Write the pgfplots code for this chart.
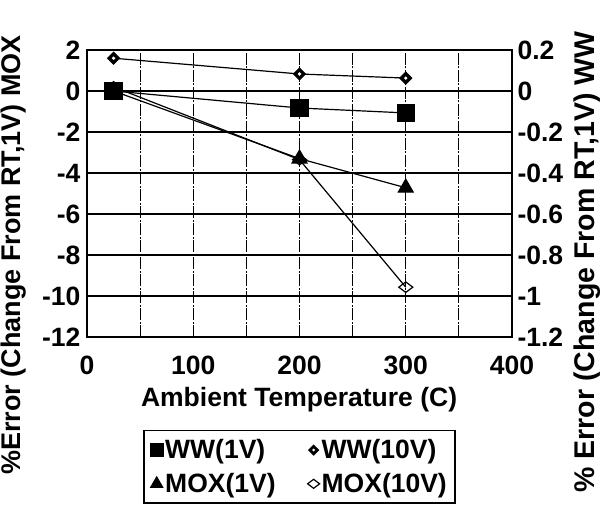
\documentclass[border=0pt]{standalone}
\usepackage{pgfplots}
\pgfplotsset{compat=1.18}
\usepackage{fontspec}
\setmainfont{Liberation Sans}
\pgfdeclareplotmark{wwd}{%
  \pgfpathmoveto{\pgfqpoint{0pt}{\pgfplotmarksize}}%
  \pgfpathlineto{\pgfqpoint{\pgfplotmarksize}{0pt}}%
  \pgfpathlineto{\pgfqpoint{0pt}{-\pgfplotmarksize}}%
  \pgfpathlineto{\pgfqpoint{-\pgfplotmarksize}{0pt}}%
  \pgfpathclose
  \pgfusepathqfillstroke
  \begin{pgfscope}%
  \pgfsetfillcolor{white}%
  \pgfpathcircle{\pgfpointorigin}{0.3\pgfplotmarksize}%
  \pgfusepathqfill
  \end{pgfscope}%
}
\newcommand{\bigf}{\fontsize{26.5}{30}\selectfont\bfseries}
\begin{document}
\begin{tikzpicture}[x=1pt,y=1pt]
\useasboundingbox (0,0) rectangle (601,517);
\pgfplotsset{
  common/.style={
    at={(87pt,180pt)}, anchor=south west, scale only axis,
    width=425pt, height=287pt,
    xmin=0, xmax=400,
    major tick length=0pt, minor tick length=0pt,
    tick label style={font=\bigf},
    label style={font=\bigf},
    axis line style={line width=1.5pt},
  }
}
\begin{axis}[common,
  ymin=-12, ymax=2,
  xtick={0,100,200,300,400}, xticklabels={0,100,200,300,400},
  minor xtick={50,150,250,350},
  ytick={-12,-10,-8,-6,-4,-2,0,2},
  yticklabels={-12,-10,-8,-6,-4,-2,0,2},
  xmajorgrids, xminorgrids, ymajorgrids,
  x grid style={black, line width=1pt, dash pattern=on 12pt off 1.5pt on 2pt off 1.5pt},
  minor x grid style={black, line width=1pt, dash pattern=on 12pt off 1.5pt on 2pt off 1.5pt},
  y grid style={black, line width=1.4pt},
  xticklabel style={yshift=-15pt},
  yticklabel style={xshift=-3pt},
  xlabel={Ambient Temperature (C)},
  xlabel style={at={(axis description cs:0.499,-0.219)}, anchor=center},
  ylabel={\%Error (Change From RT,1V) MOX},
  ylabel style={at={(axis description cs:-0.172,0.286)}, anchor=center, font=\fontsize{27}{30}\selectfont\bfseries},
]
\addplot[black, line width=1.2pt, mark=triangle*, mark size=8.5pt, mark options={solid, fill=black}]
  coordinates {(25,0) (200,-3.3) (300,-4.72)};
\addplot[black, line width=1.2pt, mark=diamond, mark size=7pt, mark options={solid, fill=white, rotate=90, line width=1.2pt}]
  coordinates {(25,0.2) (200,-3.35) (300,-9.57)};
\end{axis}
\begin{axis}[common,
  ymin=-1.2, ymax=0.2,
  axis x line=none, axis y line*=right,
  ytick={-1.2,-1,-0.8,-0.6,-0.4,-0.2,0,0.2},
  yticklabels={-1.2,-1,-0.8,-0.6,-0.4,-0.2,0,0.2},
  yticklabel style={xshift=2pt},
  ylabel={\% Error (Change From RT,1V) WW},
  ylabel style={at={(axis description cs:1.178,0.261)}, anchor=center, font=\fontsize{28.5}{32}\selectfont\bfseries},
  legend columns=2,
  legend style={at={(axis description cs:0.5,-0.324)}, anchor=north,
    font=\bigf, draw=black, line width=1.5pt, inner xsep=6pt, inner ysep=7pt,
    /tikz/every even column/.append style={column sep=30pt},
    row sep=9pt},
  legend image code/.code={\draw[#1, line width=1pt] plot coordinates {(0.22cm,0cm)};},
  legend cell align=left,
]
\addplot[black, line width=1.2pt, mark=square*, mark size=8.5pt, mark options={solid, fill=black}, forget plot]
  coordinates {(25,0) (200,-0.083) (300,-0.107)};
\addplot[black, line width=1.2pt, mark=wwd, mark size=6pt, mark options={solid, fill=black, line width=1pt}, forget plot]
  coordinates {(25,0.16) (200,0.083) (300,0.063)};
\addlegendimage{black, only marks, mark=square*, mark size=6.5pt}
\addlegendentry{WW(1V)}
\addlegendimage{black, only marks, mark=wwd, mark size=5pt}
\addlegendentry{WW(10V)}
\addlegendimage{black, only marks, mark=triangle*, mark size=7pt}
\addlegendentry{MOX(1V)}
\addlegendimage{black, only marks, mark=diamond, mark size=6pt, mark options={fill=white, rotate=90, line width=1.2pt}}
\addlegendentry{MOX(10V)}
\end{axis}
\end{tikzpicture}
\end{document}
